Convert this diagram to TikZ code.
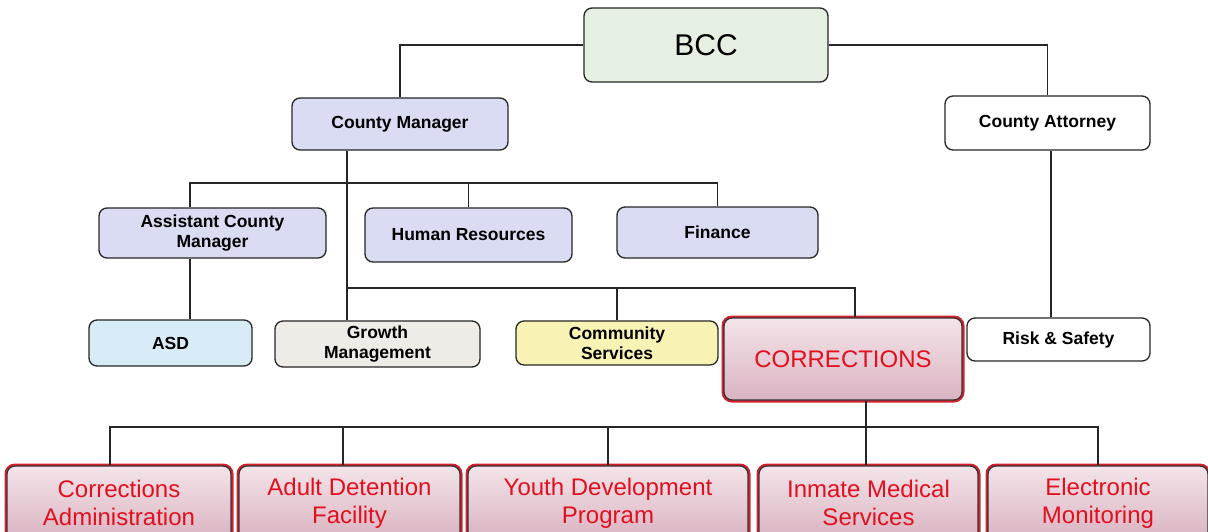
\documentclass[tikz,border=0pt]{standalone}
\usepackage{fontspec}
\setmainfont{Liberation Sans}
\definecolor{bccfill}{HTML}{E6F0E2}
\definecolor{lav}{HTML}{D9DCF2}
\definecolor{asdfill}{HTML}{D8ECF8}
\definecolor{growfill}{HTML}{EFECE7}
\definecolor{commfill}{HTML}{F8F2B4}
\definecolor{corrred}{HTML}{E0101E}
\definecolor{corrborder}{HTML}{D8202C}
\definecolor{pinklight}{HTML}{F4E4EA}
\definecolor{pinkdark}{HTML}{D9B3C1}
\tikzset{
  box/.style={draw=black!85, line width=1.3pt, rounded corners=8pt, align=center,
    inner sep=2pt, font=\fontsize{17.5}{20.5}\selectfont\bfseries},
  corr/.style={preaction={draw=corrborder, line width=5pt, rounded corners=8pt},
    draw=black!80, line width=1.3pt, rounded corners=8pt, top color=pinklight,
    bottom color=pinkdark, text=corrred, align=center, inner sep=2pt,
    font=\fontsize{24}{28}\selectfont},
  link/.style={line width=1.3pt, draw=black!85}
}
\begin{document}
\begin{tikzpicture}[x=1pt,y=-1pt]
\useasboundingbox (0,0) rectangle (1208,531);
\clip (0,0) rectangle (1208,531);
\fill[white] (0,0) rectangle (1208,531);
% top levels
\node[box, fill=bccfill, minimum width=244pt, minimum height=74pt, font=\fontsize{30}{34}\selectfont] (bcc) at (706,45) {BCC};
\node[box, fill=lav, minimum width=216pt, minimum height=52pt] (cm) at (400,124) {County Manager};
\node[box, fill=white, minimum width=205pt, minimum height=54pt] (ca) at (1047.5,123) {County Attorney};
\node[box, fill=lav, minimum width=227pt, minimum height=50pt] (acm) at (212.5,233) {Assistant County\\Manager};
\node[box, fill=lav, minimum width=207pt, minimum height=54pt] (hr) at (468.5,235) {Human Resources};
\node[box, fill=lav, minimum width=201pt, minimum height=51pt] (fin) at (717.5,232.5) {Finance};
\node[box, fill=asdfill, minimum width=163pt, minimum height=46pt] (asd) at (170.5,343) {ASD};
\node[box, fill=growfill, minimum width=205pt, minimum height=46pt] (gm) at (377.5,344) {Growth\\Management};
\node[box, fill=commfill, minimum width=202pt, minimum height=44pt] (cs) at (617,343) {Community\\Services};
\node[corr, minimum width=238pt, minimum height=82pt] (corr) at (843,359) {CORRECTIONS};
\node[box, fill=white, minimum width=183pt, minimum height=43pt] (rs) at (1058.5,339.5) {Risk \& Safety};
% bottom row
\node[corr, minimum width=224pt, minimum height=74pt] (cadm) at (119,503) {Corrections\\Administration};
\node[corr, minimum width=221pt, minimum height=74pt] (adf) at (349.5,503) {Adult Detention\\Facility};
\node[corr, minimum width=280pt, minimum height=74pt] (ydp) at (608,503) {Youth Development\\Program};
\node[corr, minimum width=219pt, minimum height=74pt] (ims) at (868.5,503) {Inmate Medical\\Services};
\node[corr, minimum width=220pt, minimum height=74pt] (em) at (1098,503) {Electronic\\Monitoring};
% junction coordinates
\coordinate (j1) at (347,183);
\coordinate (j2) at (347,288);
\coordinate (j3) at (866,427);
\coordinate (xa) at (190,0);
\coordinate (xc) at (855,0);
\coordinate (xr) at (1051,0);
\coordinate (xl) at (110,0);
\coordinate (xd) at (343,0);
% connectors
\draw[link] (bcc.west) -| (cm.north);
\draw[link] (bcc.east) -| (ca.north);
\draw[link] (cm.south -| j1) -- (j2);
\draw[link] (acm.north -| xa) -- (xa |- j1) -| (fin.north);
\draw[link] (hr.north) -- (hr.north |- j1);
\draw[link] (acm.south -| xa) -- (asd.north -| xa);
\draw[link] (gm.north -| j2) -- (j2) -| (corr.north -| xc);
\draw[link] (cs.north) -- (cs.north |- j2);
\draw[link] (ca.south -| xr) -- (rs.north -| xr);
\draw[link] (corr.south -| j3) -- (j3);
\draw[link] (cadm.north -| xl) |- (j3) -| (em.north);
\draw[link] (adf.north -| xd) -- (xd |- j3);
\draw[link] (ydp.north) -- (ydp.north |- j3);
\draw[link] (ims.north -| j3) -- (j3);
\end{tikzpicture}
\end{document}
